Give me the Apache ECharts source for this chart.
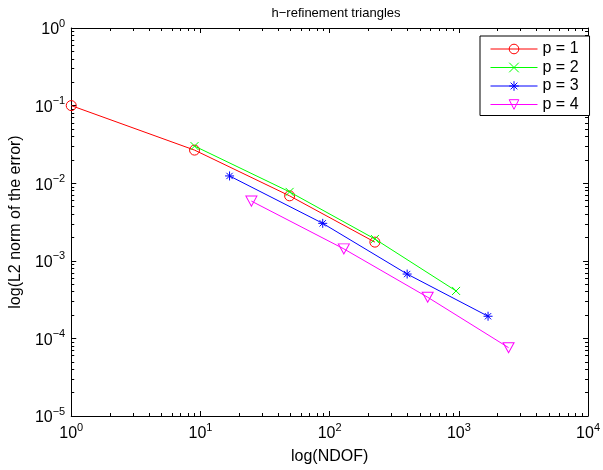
<!DOCTYPE html>
<html><head><meta charset="utf-8">
<script src="https://cdn.jsdelivr.net/npm/echarts@6/dist/echarts.min.js"></script>
<style>html,body{margin:0;padding:0;background:#fff}#c{width:603px;height:470px}</style>
</head><body><div id="c"></div>
<script>
// ---- data ----
const titleText = 'h\u2212refinement triangles';
const xName = 'log(NDOF)';
const yName = 'log(L2 norm of the error)';
const seriesNames = ['p = 1', 'p = 2', 'p = 3', 'p = 4'];
const ndofP1 = [1, 9, 49, 224];
const errP1 = [0.1, 0.0267, 0.00687, 0.00174];
const ndofP2 = [9, 49, 224, 952];
const errP2 = [0.0301, 0.00773, 0.00191, 0.000409];
const ndofP3 = [16.8, 88.4, 398, 1683];
const errP3 = [0.0124, 0.00304, 0.000675, 0.000193];
const ndofP4 = [24.8, 128.8, 574, 2426];
const errP4 = [0.00588, 0.001425, 0.000339, 0.000076];
const xMin = 1, xMax = 10000;
const yMin = 1e-5, yMax = 1;
const minorMultipliers = [2, 3, 4, 5, 6, 7, 8, 9];

// ---- styling ----
const FONT = '"Liberation Sans", Arial, Helvetica, sans-serif';
const colors = ['#ff0000', '#00ff00', '#0000ff', '#ff00ff'];
const symbols = [
  'circle',
  'path://M0,0L10,10M10,0L0,10',
  'path://M5,0L5,10M0,5L10,5M1.5,1.5L8.5,8.5M8.5,1.5L1.5,8.5',
  'path://M0,0L10,0L5,9Z'
];
const symbolSizes = [10, 8, 9, [11, 10]];

function minorLogs(loExp, hiExp) {
  const out = [];
  for (let d = loExp; d < hiExp; d++) {
    minorMultipliers.forEach(m => out.push(d + Math.log10(m)));
  }
  return out;
}
const xMinor = minorLogs(Math.log10(xMin), Math.log10(xMax));
const yMinor = minorLogs(Math.log10(yMin), Math.log10(yMax));

function powLabel(v) {
  const e = Math.round(Math.log10(v));
  const s = e < 0 ? '\u2212' + (-e) : String(e);
  return '{b|10}{s|' + s + '}';
}
const rich = {
  b: { fontSize: 16, fontFamily: FONT, color: '#000', lineHeight: 20, verticalAlign: 'bottom' },
  s: { fontSize: 11, fontFamily: FONT, color: '#000', lineHeight: 9, verticalAlign: 'top' }
};
const lineBlack = { show: true, onZero: false, lineStyle: { color: '#000', width: 1 } };

const pairs = (xs, ys) => xs.map((x, i) => [x, ys[i]]);
const allData = [pairs(ndofP1, errP1), pairs(ndofP2, errP2), pairs(ndofP3, errP3), pairs(ndofP4, errP4)];

const series = allData.map((d, i) => ({
  type: 'line',
  name: seriesNames[i],
  data: d,
  xAxisIndex: 0,
  yAxisIndex: 0,
  symbol: symbols[i],
  symbolSize: symbolSizes[i],
  showAllSymbol: true,
  lineStyle: { color: colors[i], width: 1 },
  itemStyle: { color: 'none', borderColor: colors[i], borderWidth: 1 },
  emphasis: { disabled: true },
  animation: false,
  z: 3 + i
}));

const minorTick = (vals) => ({ show: true, inside: true, length: 3, customValues: vals, lineStyle: { color: '#000', width: 1 } });

const option = {
  backgroundColor: '#fff',
  animation: false,
  title: {
    text: titleText, left: 331, top: 2, textAlign: 'center',
    textStyle: { fontSize: 13, fontWeight: 'normal', fontFamily: FONT, color: '#000' }
  },
  grid: { left: 70, right: 11, top: 28, bottom: 52, containLabel: false },
  legend: {
    orient: 'vertical', left: 480, top: 36,
    padding: [5, 11, 3, 10],
    itemWidth: 47, itemHeight: 12, itemGap: 2.5,
    borderColor: '#000', borderWidth: 1, backgroundColor: '#fff',
    textStyle: { fontSize: 16, fontFamily: FONT, color: '#000' },
    itemStyle: { borderWidth: 1 },
    lineStyle: { width: 1 },
    data: seriesNames,
    selectedMode: false
  },
  xAxis: [
    {
      type: 'log', logBase: 10, min: xMin, max: xMax, position: 'bottom',
      axisLine: lineBlack,
      axisTick: { inside: true, length: 5, lineStyle: { color: '#000' } },
      axisLabel: { formatter: powLabel, rich: rich, margin: 6 },
      splitLine: { show: false },
      name: xName, nameLocation: 'middle', nameGap: 33,
      nameTextStyle: { fontSize: 16, fontFamily: FONT, color: '#000' }
    },
    {
      type: 'log', logBase: 10, min: xMin, max: xMax, position: 'top',
      axisLine: lineBlack,
      axisTick: { inside: true, length: 5, lineStyle: { color: '#000' } },
      axisLabel: { show: false }, splitLine: { show: false }
    },
    {
      type: 'value', min: 0, max: 4, position: 'bottom',
      axisLine: { show: false, onZero: false },
      axisTick: minorTick(xMinor),
      axisLabel: { show: false }, splitLine: { show: false }
    },
    {
      type: 'value', min: 0, max: 4, position: 'top',
      axisLine: { show: false, onZero: false },
      axisTick: minorTick(xMinor),
      axisLabel: { show: false }, splitLine: { show: false }
    }
  ],
  yAxis: [
    {
      type: 'log', logBase: 10, min: yMin, max: yMax, position: 'left',
      axisLine: lineBlack,
      axisTick: { inside: true, length: 5, lineStyle: { color: '#000' } },
      axisLabel: { formatter: powLabel, rich: rich, margin: 6 },
      splitLine: { show: false },
      name: yName, nameLocation: 'middle', nameGap: 39,
      nameTextStyle: { fontSize: 16, fontFamily: FONT, color: '#000' }
    },
    {
      type: 'log', logBase: 10, min: yMin, max: yMax, position: 'right',
      axisLine: lineBlack,
      axisTick: { inside: true, length: 5, lineStyle: { color: '#000' } },
      axisLabel: { show: false }, splitLine: { show: false }
    },
    {
      type: 'value', min: -5, max: 0, position: 'left',
      axisLine: { show: false, onZero: false },
      axisTick: minorTick(yMinor),
      axisLabel: { show: false }, splitLine: { show: false }
    },
    {
      type: 'value', min: -5, max: 0, position: 'right',
      axisLine: { show: false, onZero: false },
      axisTick: minorTick(yMinor),
      axisLabel: { show: false }, splitLine: { show: false }
    }
  ],
  series: series
};

const chart = echarts.init(document.getElementById('c'), null, { renderer: 'canvas' });
chart.setOption(option);
</script>
</body></html>
